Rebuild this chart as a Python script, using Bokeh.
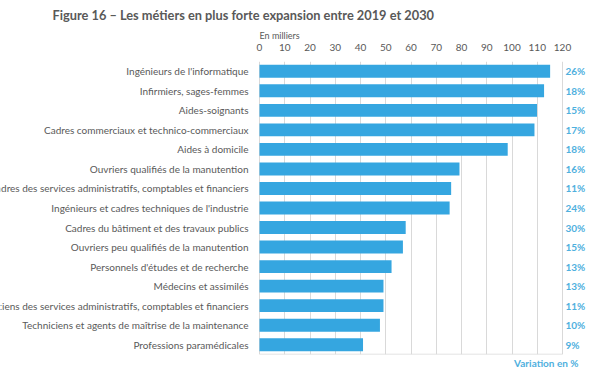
from bokeh.plotting import figure
from bokeh.models import (ColumnDataSource, FactorRange, FixedTicker, Range1d, Title)
from bokeh.core.properties import value
from bokeh.embed import file_html
from bokeh.resources import INLINE

categories = [
    "Ingénieurs de l'informatique",
    "Infirmiers, sages-femmes",
    "Aides-soignants",
    "Cadres commerciaux et technico-commerciaux",
    "Aides à domicile",
    "Ouvriers qualifiés de la manutention",
    "Cadres des services administratifs, comptables et financiers",
    "Ingénieurs et cadres techniques de l'industrie",
    "Cadres du bâtiment et des travaux publics",
    "Ouvriers peu qualifiés de la manutention",
    "Personnels d'études et de recherche",
    "Médecins et assimilés",
    "Techniciens des services administratifs, comptables et financiers",
    "Techniciens et agents de maîtrise de la maintenance",
    "Professions paramédicales",
]
values = [115.1, 112.7, 109.9, 108.9, 98.3, 79.2, 75.9, 75.3, 57.9, 56.8, 52.3, 49.1, 49.1, 47.7, 41.0]
variation = [26, 18, 15, 17, 18, 16, 11, 24, 30, 15, 13, 13, 11, 10, 9]
x_ticks = [0, 10, 20, 30, 40, 50, 60, 70, 80, 90, 100, 110, 120]

TITLE = "Figure 16 – Les métiers en plus forte expansion entre 2019 et 2030"
FONT = "Lato"
GRAY = "#595959"
BLUE = "#35A6E0"
PCT = "#4FB0DE"
GRID = "#D9D9D9"

W, H = 600, 368
FRAME_LEFT, FRAME_RIGHT = 259, 562  # pixel positions of 0 and 120
scale = (FRAME_RIGHT - FRAME_LEFT) / (x_ticks[-1] - x_ticks[0])
x_start = x_ticks[0] - FRAME_LEFT / scale
x_end = x_ticks[-1] + (W - FRAME_RIGHT) / scale

src = ColumnDataSource(dict(
    cat=categories,
    val=values,
    pct=[f"{v}%" for v in variation],
    zero=[x_ticks[0]] * len(categories),
    right=[x_ticks[-1]] * len(categories),
))

p = figure(
    width=W, height=H,
    y_range=FactorRange(factors=list(reversed(categories)), range_padding=0),
    x_range=Range1d(x_start, x_end),
    x_axis_location="above",
    output_backend="svg", toolbar_location=None,
    min_border_left=0, min_border_right=0, min_border_top=0, min_border_bottom=0,
)
p.outline_line_color = None
p.background_fill_color = "white"
p.border_fill_color = "white"

p.yaxis.visible = False
p.ygrid.grid_line_color = None
p.xgrid.ticker = FixedTicker(ticks=x_ticks)
p.xgrid.grid_line_color = GRID
p.xgrid.grid_line_width = 1

# baseline under the last category
p.segment(x0=[x_ticks[0]], x1=[x_ticks[-1]],
          y0=[(categories[-1], -0.49)], y1=[(categories[-1], -0.49)],
          line_color=GRID, line_width=1.2)

p.hbar(y="cat", right="val", left=0, height=0.66, source=src, color=BLUE, line_color=None)

p.text(x="zero", y="cat", text="cat", source=src, x_offset=-11,
       text_align="right", text_baseline="middle",
       text_font=value(FONT), text_font_size="10px", text_color=GRAY)
p.text(x="right", y="cat", text="pct", source=src, x_offset=3,
       text_align="left", text_baseline="middle",
       text_font=value(FONT), text_font_size="10px", text_font_style="bold",
       text_color=PCT)

# top axis
ax = p.xaxis[0]
ax.ticker = FixedTicker(ticks=x_ticks)
ax.axis_line_color = None
ax.major_tick_line_color = None
ax.minor_tick_line_color = None
ax.major_label_text_font = FONT
ax.major_label_text_font_size = "10px"
ax.major_label_text_color = GRAY
ax.major_label_standoff = 5

p.add_layout(Title(text="Variation en %", align="right", offset=W - 578,
                   text_font=FONT, text_font_size="10px", text_font_style="bold",
                   text_color=PCT, standoff=0), "below")

p.add_layout(Title(text="En milliers", align="left", offset=FRAME_LEFT,
                   text_font=FONT, text_font_size="9px", text_font_style="normal",
                   text_color=GRAY, standoff=0), "above")

p.title.text = TITLE
p.title.align = "left"
p.title.offset = 52
p.title.text_font = FONT
p.title.text_font_size = "12.8px"
p.title.text_font_style = "bold"
p.title.text_color = GRAY
p.title.standoff = 9

open("out.html", "w").write(file_html(p, INLINE))
